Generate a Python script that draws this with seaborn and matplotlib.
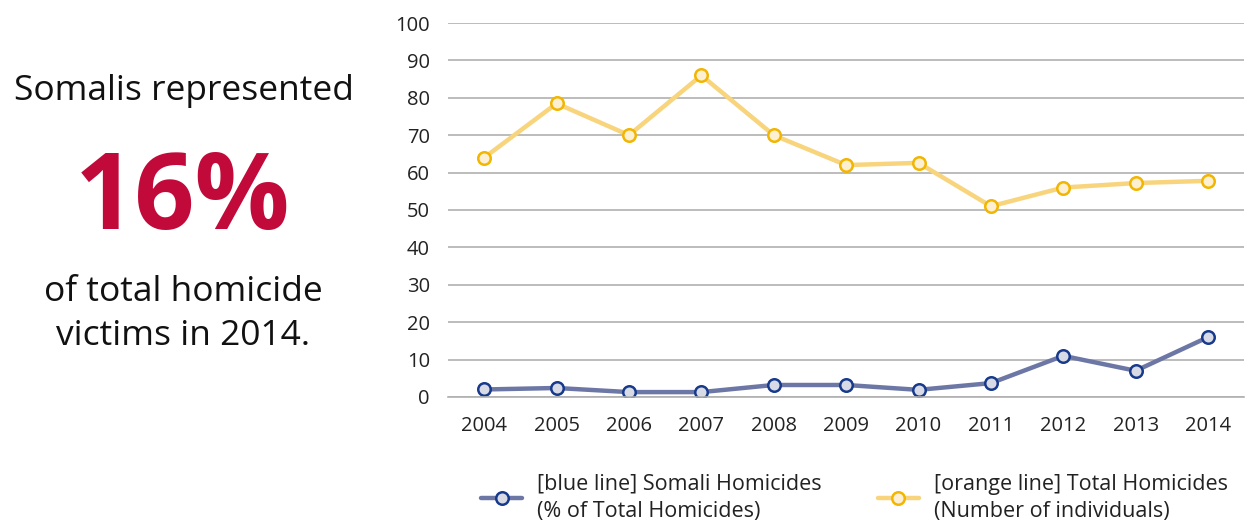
import matplotlib
matplotlib.use("Agg")
import matplotlib.pyplot as plt
import seaborn as sns
import pandas as pd
from matplotlib.lines import Line2D

years = [2004, 2005, 2006, 2007, 2008, 2009, 2010, 2011, 2012, 2013, 2014]
somali_pct = [2.0, 2.4, 1.3, 1.3, 3.2, 3.2, 1.9, 3.7, 11.0, 7.0, 16.0]
total_homicides = [64, 78.5, 70, 86, 70, 62, 62.6, 51, 56, 57.2, 57.8]
series_labels = ["[blue line] Somali Homicides\n(% of Total Homicides)",
                 "[orange line] Total Homicides\n(Number of individuals)"]
y_ticks = list(range(0, 101, 10))

sns.set_theme(style="white")
plt.rcParams['font.family'] = ['Open Sans', 'DejaVu Sans']

df = pd.DataFrame({
    "year": [str(y) for y in years] * 2,
    "value": somali_pct + total_homicides,
    "series": [series_labels[0]] * len(years) + [series_labels[1]] * len(years),
})

fig = plt.figure(figsize=(12.48, 5.23), dpi=100)
ax = fig.add_axes([0.359, 0.241, 0.638, 0.715])

line_colors = {series_labels[0]: "#6C77A6", series_labels[1]: "#F8D47C"}
sns.lineplot(data=df, x="year", y="value", hue="series", palette=line_colors,
             sort=False, linewidth=3.2, ax=ax, legend=False)

face = ["#D8DBE5", "#FDF0D2"]
edge = ["#173A8C", "#F2B500"]
for i, line in enumerate(ax.get_lines()[:2]):
    line.set_marker("o")
    line.set_markersize(9)
    line.set_markerfacecolor(face[i])
    line.set_markeredgecolor(edge[i])
    line.set_markeredgewidth(1.8)

ax.set_ylim(0, 100)
ax.set_xlim(-0.5, len(years) - 0.5)
ax.set_yticks(y_ticks)
ax.yaxis.grid(True, color="#B0B0B0", linewidth=1.2)
ax.set_axisbelow(True)
for s in ["top", "right", "left"]:
    ax.spines[s].set_visible(False)
ax.spines["bottom"].set_color("#B0B0B0")
ax.spines["bottom"].set_linewidth(1.2)
ax.tick_params(axis="both", length=0, labelsize=14.5, colors="#222222")
ax.tick_params(axis="y", pad=13)
ax.tick_params(axis="x", pad=14)
ax.set_xlabel("")
ax.set_ylabel("")

handles = [Line2D([], [], color=list(line_colors.values())[i], linewidth=3.2, marker="o",
                  markersize=9, markerfacecolor=face[i], markeredgecolor=edge[i],
                  markeredgewidth=1.8) for i in range(2)]
fig.legend(handles, series_labels, loc="center", bbox_to_anchor=(0.6846, 0.048), ncol=2,
           frameon=False, fontsize=15.5, handlelength=1.9, columnspacing=2.6,
           handletextpad=0.7, labelcolor="#222222", borderpad=0, labelspacing=0)
for t in fig.legends[0].get_texts():
    t.set_linespacing(1.4)

fig.text(0.147, 0.826, "Somalis represented", ha="center", va="center",
         fontsize=25.5, color="#111111")
fig.text(0.146, 0.615, "16%", ha="center", va="center", fontsize=76,
         fontweight="bold", color="#C20A3A")
fig.text(0.147, 0.441, "of total homicide", ha="center", va="center",
         fontsize=25.5, color="#111111")
fig.text(0.147, 0.358, "victims in 2014.", ha="center", va="center",
         fontsize=25.5, color="#111111")

fig.savefig("out.png", dpi=100)
